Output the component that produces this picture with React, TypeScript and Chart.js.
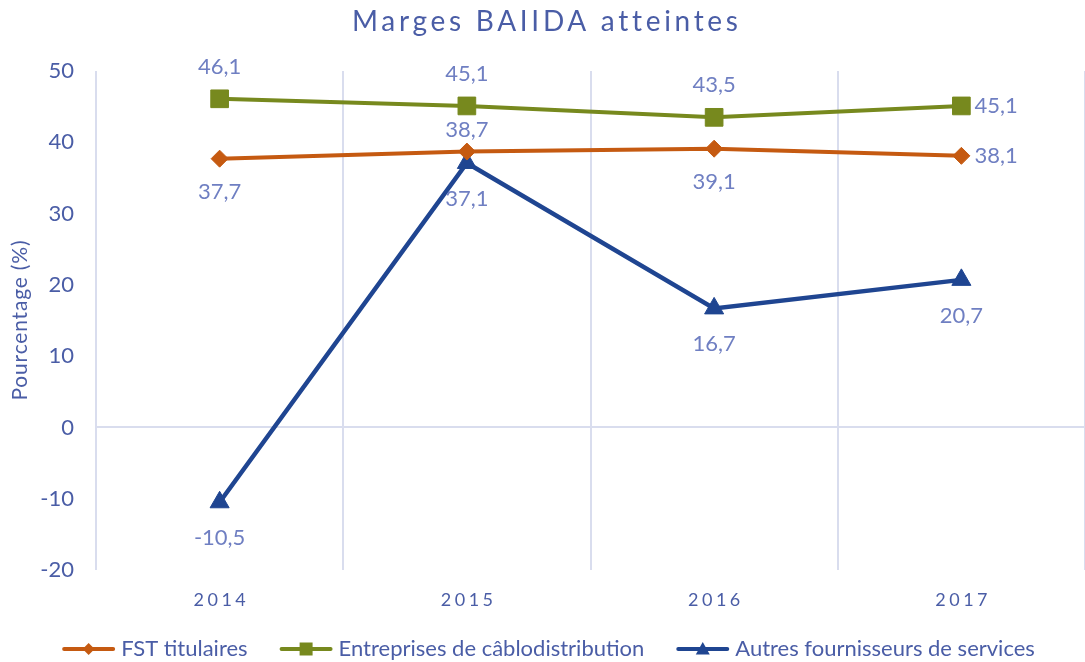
import React, { useEffect, useRef } from "react";
import { Chart, registerables } from "chart.js";

Chart.register(...registerables);

const categories = ["2014", "2015", "2016", "2017"];
const seriesNames = ["FST titulaires", "Entreprises de câblodistribution", "Autres fournisseurs de services"];
const fstValues = [37.7, 38.7, 39.1, 38.1];
const cableValues = [46.1, 45.1, 43.5, 45.1];
const autresValues = [-10.5, 37.1, 16.7, 20.7];
const yTicks = { min: -20, max: 50, step: 10 };
const titleText = "Marges BAIIDA atteintes";
const yAxisTitle = "Pourcentage (%)";

// label placement per point (style)
const fstLabelPos = ["below", "above", "below", "right"];
const cableLabelPos = ["above", "above", "above", "right"];
const autresLabelPos = ["below", "below", "below", "below"];

const FONT = "Lato, 'Open Sans', sans-serif";
const ORANGE = "#C55A11";
const GREEN = "#77891E";
const BLUE = "#1F4591";
const TEXT = "#4A5DA6";
const LABEL = "#6F7FC2";
const GRID = "#D9DDEE";

function fmt(v: number) {
  return v.toFixed(1).replace(".", ",");
}

function drawMarker(ctx: CanvasRenderingContext2D, style: string, x: number, y: number, s: number, color: string) {
  ctx.save();
  ctx.fillStyle = color;
  ctx.beginPath();
  if (style === "diamond") {
    ctx.moveTo(x, y - s);
    ctx.lineTo(x + s, y);
    ctx.lineTo(x, y + s);
    ctx.lineTo(x - s, y);
  } else if (style === "square") {
    ctx.rect(x - s, y - s, 2 * s, 2 * s);
  } else {
    ctx.moveTo(x, y - s);
    ctx.lineTo(x + s, y + s * 0.8);
    ctx.lineTo(x - s, y + s * 0.8);
  }
  ctx.closePath();
  ctx.fill();
  ctx.restore();
}

function spacedText(ctx: CanvasRenderingContext2D, text: string, targetW: number) {
  (ctx as any).letterSpacing = "0px";
  const w = ctx.measureText(text).width;
  const ls = Math.max(0, (targetW - w) / (text.length - 1));
  (ctx as any).letterSpacing = `${ls}px`;
  return ls;
}

const overlayPlugin = {
  id: "overlay",
  afterDraw(chart: any) {
    const ctx: CanvasRenderingContext2D = chart.ctx;
    const xs = chart.scales.x;
    const ys = chart.scales.y;
    const area = chart.chartArea;
    ctx.save();

    // title
    ctx.font = `28px ${FONT}`;
    ctx.fillStyle = TEXT;
    ctx.textAlign = "left";
    ctx.textBaseline = "alphabetic";
    const targetTitleW = 385;
    spacedText(ctx, titleText, targetTitleW);
    ctx.fillText(titleText, 544.5 - targetTitleW / 2, 31);

    // y axis title
    ctx.save();
    ctx.font = `21px ${FONT}`;
    const ytW = 160;
    spacedText(ctx, yAxisTitle, ytW);
    ctx.translate(20, (area.top + area.bottom) / 2);
    ctx.rotate(-Math.PI / 2);
    ctx.textBaseline = "middle";
    ctx.fillText(yAxisTitle, -ytW / 2, 0);
    ctx.restore();

    // x labels
    ctx.font = `18px ${FONT}`;
    (ctx as any).letterSpacing = "3.5px";
    ctx.textBaseline = "alphabetic";
    categories.forEach((c, i) => {
      const w = ctx.measureText(c).width - 3.5;
      ctx.fillText(c, xs.getPixelForValue(i) - w / 2, 606);
    });
    (ctx as any).letterSpacing = "0px";

    // data labels
    ctx.font = `22px ${FONT}`;
    ctx.fillStyle = LABEL;
    ctx.textBaseline = "middle";
    const all = [
      { vals: fstValues, pos: fstLabelPos, above: 22, below: 33 },
      { vals: cableValues, pos: cableLabelPos, above: 32, below: 33 },
      { vals: autresValues, pos: autresLabelPos, above: 32, below: 36 },
    ];
    all.forEach((s) => {
      s.vals.forEach((v, i) => {
        const px = xs.getPixelForValue(i);
        const py = ys.getPixelForValue(v);
        const p = s.pos[i];
        if (p === "right") {
          ctx.textAlign = "left";
          ctx.fillText(fmt(v), px + 13, py);
        } else if (p === "above") {
          ctx.textAlign = "center";
          ctx.fillText(fmt(v), px, py - s.above);
        } else {
          ctx.textAlign = "center";
          ctx.fillText(fmt(v), px, py + s.below);
        }
      });
    });

    // legend
    ctx.font = `22px ${FONT}`;
    ctx.textAlign = "left";
    ctx.textBaseline = "middle";
    const colors = [ORANGE, GREEN, BLUE];
    const markers = ["diamond", "square", "triangle"];
    const markerSizes = [6, 6.5, 7];
    const lineLen = 53;
    const gap = 6;
    const itemGap = 32;
    const widths = seriesNames.map((n) => lineLen + gap + ctx.measureText(n).width);
    const total = widths.reduce((a, b) => a + b, 0) + itemGap * (seriesNames.length - 1);
    let x = 548.5 - total / 2;
    const ly = 649;
    seriesNames.forEach((n, i) => {
      ctx.strokeStyle = colors[i];
      ctx.lineWidth = 4;
      ctx.lineCap = "round";
      ctx.beginPath();
      ctx.moveTo(x + 2, ly);
      ctx.lineTo(x + lineLen - 2, ly);
      ctx.stroke();
      drawMarker(ctx, markers[i], x + lineLen / 2, ly, markerSizes[i], colors[i]);
      ctx.fillStyle = TEXT;
      ctx.fillText(n, x + lineLen + gap, ly);
      x += widths[i] + itemGap;
    });

    ctx.restore();
  },
};

export default function App() {
  const ref = useRef<HTMLCanvasElement | null>(null);
  useEffect(() => {
    if (!ref.current) return;
    const chart = new Chart(ref.current, {
      type: "line",
      data: {
        labels: categories,
        datasets: [
          {
            label: seriesNames[0],
            data: fstValues,
            borderColor: ORANGE,
            backgroundColor: ORANGE,
            borderWidth: 4,
            pointStyle: "rectRot",
            pointRadius: 8.5,
            pointBorderWidth: 1,
          },
          {
            label: seriesNames[1],
            data: cableValues,
            borderColor: GREEN,
            backgroundColor: GREEN,
            borderWidth: 4,
            pointStyle: "rect",
            pointRadius: 12.5,
            pointBorderWidth: 1,
          },
          {
            label: seriesNames[2],
            data: autresValues,
            borderColor: BLUE,
            backgroundColor: BLUE,
            borderWidth: 4.5,
            pointStyle: "triangle",
            pointRadius: 11,
            pointBorderWidth: 1,
          },
        ],
      },
      options: {
        responsive: false,
        animation: false,
        layout: { autoPadding: false, padding: { top: 71, bottom: 92, left: 0, right: -3 } },
        plugins: {
          legend: { display: false },
          title: { display: false },
          tooltip: { enabled: false },
        },
        scales: {
          x: {
            type: "category",
            offset: true,
            ticks: { display: false },
            border: { display: false },
            grid: { offset: true, drawTicks: false, color: GRID, lineWidth: 2 },
          },
          y: {
            min: yTicks.min,
            max: yTicks.max,
            ticks: {
              stepSize: yTicks.step,
              padding: 22,
              color: TEXT,
              font: { family: FONT, size: 22 },
            },
            border: { display: false },
            grid: {
              drawTicks: false,
              lineWidth: 2,
              color: (c: any) => (c.tick && c.tick.value === 0 ? GRID : "rgba(0,0,0,0)"),
            },
            title: { display: false },
            afterFit: (s: any) => {
              s.width = 96;
            },
          },
        },
      },
      plugins: [overlayPlugin],
    } as any);
    return () => chart.destroy();
  }, []);
  return (
    <div style={{ position: "fixed", left: 0, top: 0, width: 1085, height: 662, background: "#fff" }}>
      <canvas ref={ref} width={1085} height={662} style={{ display: "block" }} />
    </div>
  );
}
